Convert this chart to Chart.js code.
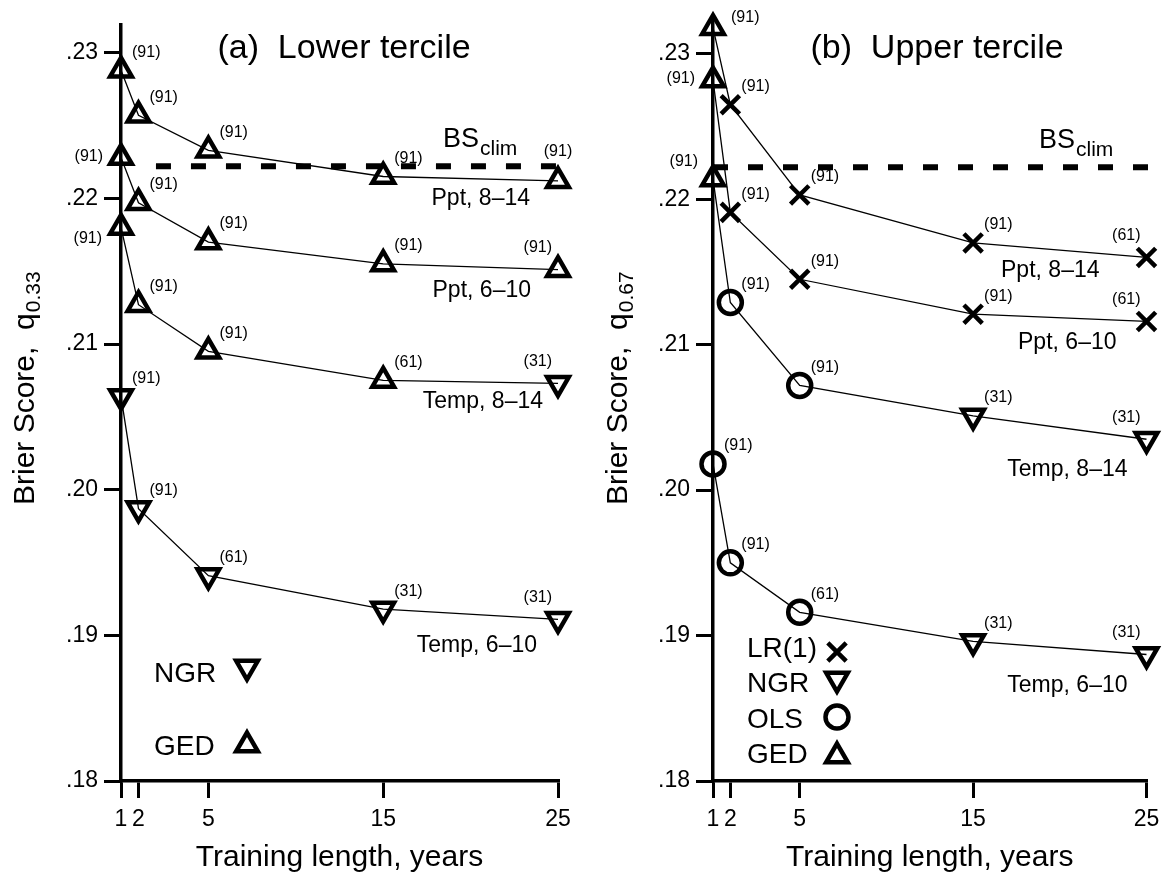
<!DOCTYPE html>
<html>
<head>
<meta charset="utf-8">
<title>Brier Score vs training length</title>
<script src="https://cdn.jsdelivr.net/npm/chart.js@4.4.1/dist/chart.umd.min.js"></script>
<style>
  html, body { margin: 0; padding: 0; background: #fff; }
  #wrap { position: relative; width: 1164px; height: 875px; overflow: hidden; }
  canvas { position: absolute; top: 0; }
  #chartA { left: 0; }
  #chartB { left: 582px; }
</style>
</head>
<body>
<div id="wrap">
  <canvas id="chartA" width="582" height="875"></canvas>
  <canvas id="chartB" width="582" height="875"></canvas>
</div>
<script>
// --- DATOS ---
const xPositions = [0, 1, 5, 15, 25];
const xTickLabels = ['1', '2', '5', '15', '25'];
const yTicks = [0.18, 0.19, 0.20, 0.21, 0.22, 0.23];
const yTickLabels = ['.18', '.19', '.20', '.21', '.22', '.23'];
const bsClim = 0.2222;
const seriesNames = ['Ppt, 8–14', 'Ppt, 6–10', 'Temp, 8–14', 'Temp, 6–10'];

// (a) lower tercile
const lowPpt814 = [0.2288, 0.2257, 0.2233, 0.2215, 0.2212];
const lowPpt610 = [0.2228, 0.2197, 0.2170, 0.2155, 0.2151];
const lowTemp814 = [0.2180, 0.2127, 0.2095, 0.2075, 0.2073];
const lowTemp610 = [0.2064, 0.1987, 0.1941, 0.1918, 0.1911];
const lowPpt814Method = ['GED', 'GED', 'GED', 'GED', 'GED'];
const lowPpt610Method = ['GED', 'GED', 'GED', 'GED', 'GED'];
const lowTemp814Method = ['GED', 'GED', 'GED', 'GED', 'NGR'];
const lowTemp610Method = ['NGR', 'NGR', 'NGR', 'NGR', 'NGR'];
const lowPpt814N = [91, 91, 91, 91, 91];
const lowPpt610N = [91, 91, 91, 91, 91];
const lowTemp814N = [91, 91, 91, 61, 31];
const lowTemp610N = [91, 91, 61, 31, 31];

// (b) upper tercile
const upPpt814 = [0.2318, 0.2265, 0.2203, 0.2170, 0.2160];
const upPpt610 = [0.2282, 0.2191, 0.2145, 0.2121, 0.2116];
const upTemp814 = [0.2214, 0.2129, 0.2072, 0.2051, 0.2035];
const upTemp610 = [0.2018, 0.1950, 0.1916, 0.1896, 0.1887];
const upPpt814Method = ['GED', 'LR', 'LR', 'LR', 'LR'];
const upPpt610Method = ['GED', 'LR', 'LR', 'LR', 'LR'];
const upTemp814Method = ['GED', 'OLS', 'OLS', 'NGR', 'NGR'];
const upTemp610Method = ['OLS', 'OLS', 'OLS', 'NGR', 'NGR'];
const upPpt814N = [91, 91, 91, 91, 61];
const upPpt610N = [91, 91, 91, 91, 61];
const upTemp814N = [91, 91, 91, 31, 31];
const upTemp610N = [91, 91, 61, 31, 31];

const legendA = ['NGR', 'GED'];
const legendAMethod = ['NGR', 'GED'];
const legendB = ['LR(1)', 'NGR', 'OLS', 'GED'];
const legendBMethod = ['LR', 'NGR', 'OLS', 'GED'];

// --- ESTILOS ---
const FONT = '"Liberation Sans", Arial, Helvetica, sans-serif';
Chart.defaults.font.family = FONT;
Chart.defaults.color = '#000';

const MARK = {
  GED: { style: 'triangle', rot: 0, r: 12.5 },
  NGR: { style: 'triangle', rot: 180, r: 12.5 },
  OLS: { style: 'circle', rot: 0, r: 11.5 },
  LR: { style: 'crossRot', rot: 0, r: 13 }
};
const MARK_BW = 4.5;

function serie(vals, methods, counts, countPos, nameOff) {
  return {
    data: xPositions.map((x, i) => ({ x: x, y: vals[i] })),
    showLine: true,
    borderColor: '#000',
    borderWidth: 1.3,
    tension: 0,
    clip: false,
    pointStyle: methods.map(m => MARK[m].style),
    pointRotation: methods.map(m => MARK[m].rot),
    pointRadius: methods.map(m => MARK[m].r),
    pointHoverRadius: methods.map(m => MARK[m].r),
    pointBorderWidth: MARK_BW,
    pointHoverBorderWidth: MARK_BW,
    pointBorderColor: '#000',
    pointBackgroundColor: 'rgba(0,0,0,0)',
    counts: counts,
    countPos: countPos,
    nameOff: nameOff
  };
}

function climLine(x0, x1) {
  return {
    data: [{ x: x0, y: bsClim }, { x: x1, y: bsClim }],
    showLine: true,
    borderColor: '#000',
    borderWidth: 6,
    borderDash: [15, 20],
    borderCapStyle: 'butt',
    pointRadius: 0,
    pointHoverRadius: 0,
    clip: false
  };
}

// posiciones de las etiquetas "(n)" relativas al punto
const COUNT_OFF = {
  r: { dx: 11, dy: -18, align: 'left' },
  R: { dx: 18, dy: -10, align: 'left' },
  c: { dx: 0, dy: -29, align: 'center' },
  l: { dx: -6, dy: -22, align: 'right' },
  L: { dx: -18, dy: -1, align: 'right' },
  Lb: { dx: -19, dy: 11, align: 'right' },
  Lu: { dx: -15, dy: -17, align: 'right' }
};

function drawMarker(ctx, method, x, y) {
  const m = MARK[method];
  ctx.save();
  ctx.strokeStyle = '#000';
  ctx.fillStyle = 'rgba(0,0,0,0)';
  ctx.lineWidth = MARK_BW;
  Chart.helpers.drawPoint(ctx, { pointStyle: m.style, rotation: m.rot, radius: m.r, borderWidth: MARK_BW }, x, y);
  ctx.restore();
}

function panelPlugin(cfg) {
  return {
    id: 'panelText',
    afterDatasetsDraw(chart) {
      const ctx = chart.ctx;
      const ca = chart.chartArea;
      ctx.save();
      ctx.fillStyle = '#000';

      // titulo del panel
      ctx.font = `34px ${FONT}`;
      ctx.textAlign = 'center';
      ctx.textBaseline = 'alphabetic';
      ctx.fillText(cfg.title, cfg.titleX, 58);

      // titulo eje x
      ctx.font = `30px ${FONT}`;
      ctx.fillText('Training length, years', (ca.left + ca.right) / 2, 866);

      // titulo eje y con subindice
      ctx.save();
      ctx.translate(cfg.yTitleX, 505);
      ctx.rotate(-Math.PI / 2);
      ctx.textAlign = 'left';
      ctx.font = `30px ${FONT}`;
      const main = 'Brier Score,  q';
      ctx.fillText(main, 0, 0);
      const w = ctx.measureText(main).width;
      ctx.font = `21px ${FONT}`;
      ctx.fillText(cfg.qSub, w + 1, 6);
      ctx.restore();

      // BS clim
      ctx.textAlign = 'left';
      ctx.font = `27px ${FONT}`;
      ctx.fillText('BS', cfg.bsX, cfg.bsY);
      const wbs = ctx.measureText('BS').width;
      ctx.font = `21px ${FONT}`;
      ctx.fillText('clim', cfg.bsX + wbs + 1, cfg.bsY + 8);

      // etiquetas de conteo y nombres de series
      chart.data.datasets.forEach((ds, di) => {
        if (!ds.counts) return;
        const pts = chart.getDatasetMeta(di).data;
        ctx.font = `16px ${FONT}`;
        ctx.textBaseline = 'middle';
        pts.forEach((p, i) => {
          const o = COUNT_OFF[ds.countPos[i]];
          ctx.textAlign = o.align;
          ctx.fillText('(' + ds.counts[i] + ')', p.x + o.dx, p.y + o.dy);
        });
        const last = pts[pts.length - 1];
        ctx.font = `23px ${FONT}`;
        ctx.textAlign = 'right';
        ctx.textBaseline = 'alphabetic';
        ctx.fillText(seriesNames[di], last.x + ds.nameOff[0], last.y + ds.nameOff[1]);
      });

      // leyenda
      ctx.font = `28px ${FONT}`;
      ctx.textAlign = 'left';
      ctx.textBaseline = 'alphabetic';
      cfg.legend.forEach(item => {
        ctx.fillText(item.text, cfg.legendX, item.base);
        drawMarker(ctx, item.method, cfg.markX, item.my);
      });

      ctx.restore();
    }
  };
}

function makeOptions(yMax, axisW, padTop, padRight) {
  return {
    responsive: false,
    animation: false,
    events: [],
    layout: { padding: { top: padTop, right: padRight, bottom: 0, left: 0 } },
    plugins: { legend: { display: false }, tooltip: { enabled: false } },
    scales: {
      x: {
        type: 'linear', min: 0, max: 25,
        afterBuildTicks: s => { s.ticks = xPositions.map(v => ({ value: v })); },
        afterFit: s => { s.height = 94; s.paddingLeft = 0; s.paddingRight = 0; },
        ticks: {
          callback: (v, i) => xTickLabels[i],
          autoSkip: false, maxRotation: 0, padding: 8,
          font: { size: 23 }, color: '#000'
        },
        grid: { drawOnChartArea: false, drawTicks: true, tickLength: 17, tickWidth: 3, tickColor: '#000', color: '#000', lineWidth: 3 },
        border: { display: true, color: '#000', width: 3.5 }
      },
      y: {
        type: 'linear', min: 0.18, max: yMax,
        afterBuildTicks: s => { s.ticks = yTicks.map(v => ({ value: v })); },
        afterFit: s => { s.width = axisW; s.paddingTop = 0; s.paddingBottom = 0; },
        ticks: {
          callback: (v, i) => yTickLabels[i],
          autoSkip: false, padding: 6,
          font: { size: 23 }, color: '#000'
        },
        grid: { drawOnChartArea: false, drawTicks: true, tickLength: 17, tickWidth: 3, tickColor: '#000', color: '#000', lineWidth: 3 },
        border: { display: true, color: '#000', width: 3.5 }
      }
    }
  };
}

// --- PANEL (a) ---
new Chart(document.getElementById('chartA'), {
  type: 'scatter',
  data: {
    datasets: [
      serie(lowPpt814, lowPpt814Method, lowPpt814N, ['r', 'r', 'r', 'r', 'c'], [-28, 24]),
      serie(lowPpt610, lowPpt610Method, lowPpt610N, ['L', 'r', 'r', 'r', 'l'], [-27, 27]),
      serie(lowTemp814, lowTemp814Method, lowTemp814N, ['Lb', 'r', 'r', 'r', 'l'], [-15, 25]),
      serie(lowTemp610, lowTemp610Method, lowTemp610N, ['r', 'r', 'r', 'r', 'l'], [-21, 33]),
      climLine(2, 25)
    ]
  },
  options: makeOptions(0.2319, 121, 25, 24),
  plugins: [panelPlugin({
    title: '(a)  Lower tercile', titleX: 344,
    yTitleX: 34, qSub: '0.33',
    bsX: 443, bsY: 147,
    legendX: 154, markX: 247,
    legend: [
      { text: legendA[0], method: legendAMethod[0], base: 682, my: 667 },
      { text: legendA[1], method: legendAMethod[1], base: 755, my: 745 }
    ]
  })]
});

// --- PANEL (b) ---
new Chart(document.getElementById('chartB'), {
  type: 'scatter',
  data: {
    datasets: [
      serie(upPpt814, upPpt814Method, upPpt814N, ['R', 'r', 'r', 'r', 'l'], [-47, 20]),
      serie(upPpt610, upPpt610Method, upPpt610N, ['L', 'r', 'r', 'r', 'l'], [-30, 28]),
      serie(upTemp814, upTemp814Method, upTemp814N, ['Lu', 'r', 'r', 'r', 'l'], [-19, 37]),
      serie(upTemp610, upTemp610Method, upTemp610N, ['r', 'r', 'r', 'r', 'l'], [-19, 38]),
      climLine(0, 26)
    ]
  },
  options: makeOptions(0.2325, 131, 13, 15),
  plugins: [panelPlugin({
    title: '(b)  Upper tercile', titleX: 355,
    yTitleX: 45, qSub: '0.67',
    bsX: 457, bsY: 148,
    legendX: 165, markX: 255,
    legend: [
      { text: legendB[0], method: legendBMethod[0], base: 657, my: 652 },
      { text: legendB[1], method: legendBMethod[1], base: 692, my: 679 },
      { text: legendB[2], method: legendBMethod[2], base: 728, my: 717 },
      { text: legendB[3], method: legendBMethod[3], base: 763, my: 756 }
    ]
  })]
});
</script>
</body>
</html>
